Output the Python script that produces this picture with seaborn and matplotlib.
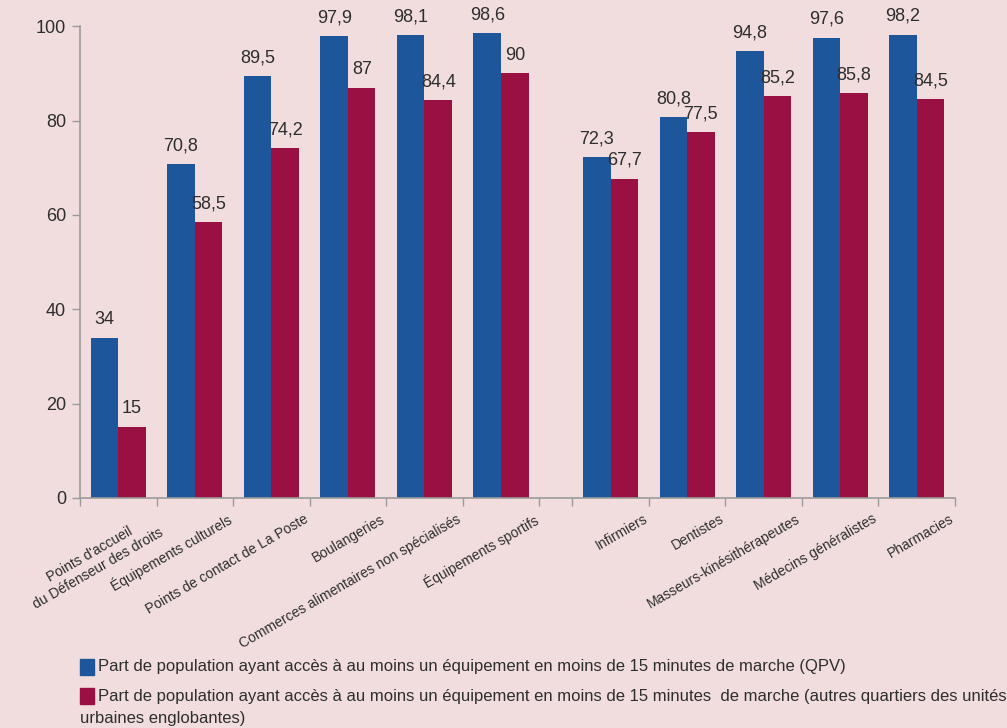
import matplotlib
matplotlib.use("Agg")
import matplotlib.pyplot as plt
import matplotlib.patches as mpatches
from matplotlib.ticker import FixedLocator
import seaborn as sns
import pandas as pd
import numpy as np

categories = [
    "Points d'accueil\ndu Défenseur des droits",
    "Équipements culturels",
    "Points de contact de La Poste",
    "Boulangeries",
    "Commerces alimentaires non spécialisés",
    "Équipements sportifs",
    "Infirmiers",
    "Dentistes",
    "Masseurs-kinésithérapeutes",
    "Médecins généralistes",
    "Pharmacies",
]
qpv = [34, 70.8, 89.5, 97.9, 98.1, 98.6, 72.3, 80.8, 94.8, 97.6, 98.2]
autres = [15, 58.5, 74.2, 87, 84.4, 90, 67.7, 77.5, 85.2, 85.8, 84.5]
series_names = [
    "Part de population ayant accès à au moins un équipement en moins de 15 minutes de marche (QPV)",
    "Part de population ayant accès à au moins un équipement en moins de 15 minutes  de marche (autres quartiers des unités urbaines englobantes)",
]
y_ticks = [0, 20, 40, 60, 80, 100]

BG = "#f1dddd"
BLUE = "#1e569b"
RED = "#9b1042"
TXT = "#2e2e2e"
GRID = "#9a9a9a"

sns.set_theme(style="white")
plt.rcParams["font.family"] = ["Liberation Sans", "DejaVu Sans"]

# positions: first group 0..5, a narrow gap, then second group
gap = 0.43
n_first = 6
pos = [i if i < n_first else i + gap for i in range(len(categories))]

df = pd.DataFrame({
    "pos": pos * 2,
    "value": qpv + autres,
    "serie": [series_names[0]] * len(qpv) + [series_names[1]] * len(autres),
})

fig = plt.figure(figsize=(10.07, 7.28), dpi=100, facecolor=BG)
ax = fig.add_axes([0.0794, 0.316, 0.8690, 0.648])
ax.set_facecolor(BG)

sns.barplot(data=df, x="pos", y="value", hue="serie", native_scale=True,
            palette=[BLUE, RED], width=0.72, saturation=1, legend=False,
            linewidth=0, ax=ax)

for cont in ax.containers:
    ax.bar_label(cont, fmt=lambda v: f"{v:g}".replace(".", ","), padding=7,
                 fontsize=13, color=TXT)

ax.set_ylim(0, 100)
ax.set_xlim(-0.5, pos[-1] + 0.5)
ax.set_yticks(y_ticks)
ax.tick_params(axis="y", length=6, width=1, color=GRID, labelsize=13,
               labelcolor=TXT, pad=4, left=True)

# boundary tick marks
bounds = [p - 0.5 for p in pos[:n_first]] + [pos[n_first - 1] + 0.5] + \
         [p - 0.5 for p in pos[n_first:]] + [pos[-1] + 0.5]
ax.xaxis.set_minor_locator(FixedLocator(bounds))
ax.tick_params(axis="x", which="minor", length=6, width=1, color=GRID, bottom=True)
label_pos = [p + 0.42 for p in pos]
ax.set_xticks(label_pos)
ax.set_xticklabels(categories, rotation=30, ha="right", rotation_mode="anchor",
                   fontsize=10, color=TXT, multialignment="center")
ax.tick_params(axis="x", which="major", length=0, pad=10)
ax.set_xlabel("")
ax.set_ylabel("")

for s in ["top", "right"]:
    ax.spines[s].set_visible(False)
for s in ["left", "bottom"]:
    ax.spines[s].set_color(GRID)
    ax.spines[s].set_linewidth(1.2)

# legend (manual layout to reproduce the wrapped second entry)
W, H = 1007, 728
lfont = dict(fontsize=12, color=TXT, family=["Liberation Sans Narrow", "Liberation Sans", "DejaVu Sans"])
for (yy, col) in [(667, BLUE), (696, RED)]:
    fig.patches.append(mpatches.Rectangle((80 / W, 1 - (yy + 8) / H), 14 / W, 16 / H,
                                          transform=fig.transFigure, color=col))
fig.text(98 / W, 1 - 667 / H, series_names[0], va="center", ha="left", **lfont)
fig.text(98 / W, 1 - 696 / H, "Part de population ayant accès à au moins un équipement en moins de 15 minutes  de marche (autres quartiers des unités",
         va="center", ha="left", **lfont)
fig.text(80 / W, 1 - 718 / H, "urbaines englobantes)", va="center", ha="left", **lfont)

fig.savefig("out.png", dpi=100, facecolor=BG)
